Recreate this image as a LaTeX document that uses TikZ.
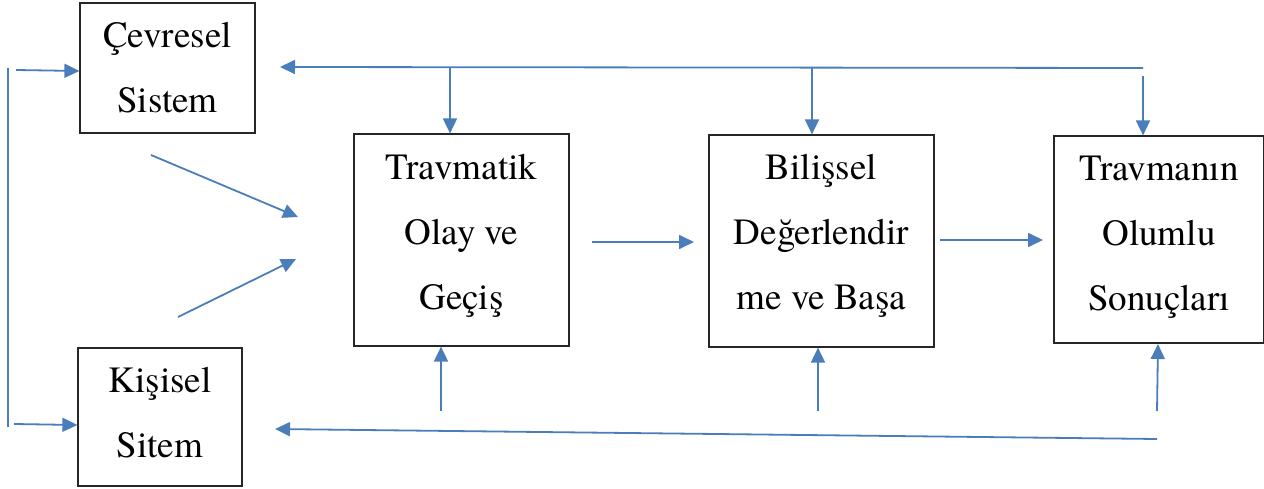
\documentclass[tikz,border=0pt]{standalone}
\usepackage{fontspec}
\setmainfont{texgyretermes}[Extension=.otf, UprightFont=*-regular, BoldFont=*-bold, ItalicFont=*-italic, BoldItalicFont=*-bolditalic]
\usetikzlibrary{arrows.meta}
\definecolor{lineblue}{HTML}{4A7EBB}
\tikzset{
  box/.style={draw=black!85, line width=1.2pt, fill=none, inner sep=0pt},
  txt/.style={align=center, inner sep=0pt, font=\rmfamily\fontsize{37}{65}\selectfont},
  conn/.style={draw=lineblue, line width=1.8pt},
  arr/.style={conn, -{Triangle[length=15pt,width=14pt]}},
}
\begin{document}
\begin{tikzpicture}[x=1pt,y=-1pt]
\useasboundingbox (0,0) rectangle (1264,489);
% boxes
\node[box, minimum width=175pt, minimum height=130pt] (cev) at (167.5,68) {};
\node[box, minimum width=164pt, minimum height=138pt] (kis) at (160,417) {};
\node[box, minimum width=215pt, minimum height=212pt] (trav) at (461.5,240) {};
\node[box, minimum width=225pt, minimum height=212pt] (bil) at (821.5,241) {};
\node[box, minimum width=210pt, minimum height=207pt] (son) at (1159,239.5) {};
% texts
\node[txt] (cevT) at (167.5,68) {Çevresel\\Sistem};
\node[txt] (kisT) at (160,413) {Kişisel\\Sitem};
\node[txt] (travT) at (461.5,235.4) {Travmatik\\Olay ve\\Geçiş};
\node[txt] (bilT) at (821.5,235.4) {Bilişsel\\Değerlendir\\me ve Başa};
\node[txt] (sonT) at (1159,237.5) {Travmanın\\Olumlu\\Sonuçları};
% left bus
\coordinate (lt) at (8,68);
\coordinate (lb) at (8,427);
\draw[conn] (lt) -- (lb);
\coordinate (la) at (16,70);
\coordinate (lc) at (14,424);
\draw[arr] (la) -- (cev.west |- 0,71);
\draw[arr] (lc) -- (kis.west |- 0,425);
% top bus
\coordinate (tr) at (1143,68);
\coordinate (tl) at (280,67);
\draw[arr] (tr) -- (tl);
\coordinate (t1) at (450,68);
\coordinate (t2) at (812,68);
\coordinate (t3) at (1143,76);
\draw[arr] (t1) -- (t1 |- trav.north);
\draw[arr] (t2) -- (t2 |- bil.north);
\draw[arr] (t3) -- (t3 |- son.north);
% diagonals into trav
\coordinate (d1s) at (151,155);
\coordinate (d1e) at (298,217);
\coordinate (d2s) at (178,317);
\coordinate (d2e) at (296,259);
\draw[arr] (d1s) -- (d1e);
\draw[arr] (d2s) -- (d2e);
% horizontal flow
\coordinate (h1s) at (592,242);
\coordinate (h1e) at (694,242);
\coordinate (h2s) at (940,240);
\coordinate (h2e) at (1043,240);
\draw[arr] (h1s) -- (h1e);
\draw[arr] (h2s) -- (h2e);
% bottom ups
\coordinate (u1) at (441,411);
\coordinate (u2) at (818,411);
\coordinate (u3) at (1157,411);
\draw[arr] (u1) -- (u1 |- trav.south);
\draw[arr] (u2) -- (u2 |- bil.south);
\draw[arr] (u3) -- (1158,344);
% bottom bus
\coordinate (br) at (1157,439);
\coordinate (bl) at (275,429);
\draw[arr] (br) -- (bl);
\end{tikzpicture}
\end{document}
